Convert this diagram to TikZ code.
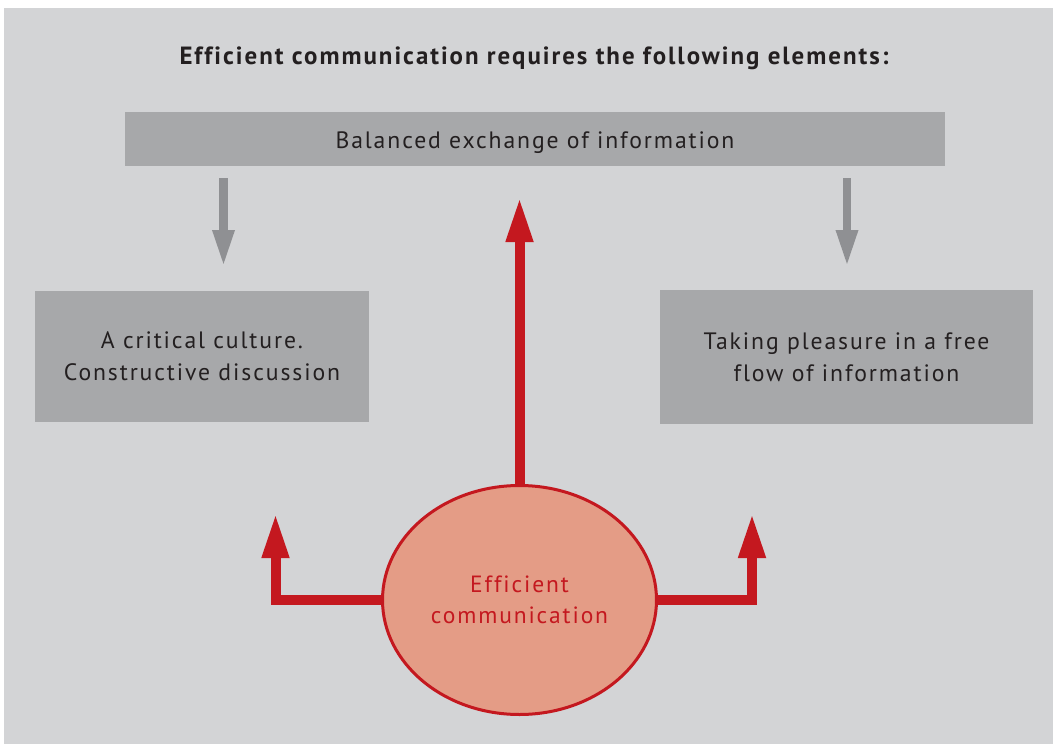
\documentclass[tikz,border=0pt]{standalone}
\usepackage{fontspec}
\setmainfont{PT Sans}[LetterSpace=8, Ligatures=NoCommon]
\usetikzlibrary{arrows.meta,shapes.geometric}
\definecolor{panel}{HTML}{D3D4D6}
\definecolor{boxgray}{HTML}{A7A8AA}
\definecolor{arrowgray}{HTML}{8F9093}
\definecolor{accent}{HTML}{C4181F}
\definecolor{blush}{HTML}{E49C86}
\definecolor{ink}{HTML}{231F20}
\tikzset{
  infobox/.style={fill=boxgray, inner sep=0pt, text=ink, align=center,
    font=\fontsize{23.7}{32}\selectfont},
  hint/.style={draw=arrowgray, line width=8.5pt,
    -{Triangle[length=37pt, width=20pt]}},
  flow/.style={draw=accent, line width=10pt,
    -{Triangle[length=45pt, width=25pt]}},
}
\begin{document}
\begin{tikzpicture}[x=1pt, y=-1pt]
  \useasboundingbox (0,0) rectangle (1053,744);
  \fill[panel] (4,8) rectangle (1053,744);

  % heading
  \node[text=ink, font=\bfseries\fontsize{24.9}{30}\selectfont] (title) at (534,58)
    {Efficient communication requires the following elements:};

  % three grey boxes
  \node[infobox, minimum width=820pt, minimum height=54pt,
    text height=20pt, text depth=2pt] (exchange) at (535,139)
    {Balanced exchange of information};
  \node[infobox, minimum width=334pt, minimum height=131pt] (critical) at (202,356.5)
    {A critical culture.\\Constructive discussion};
  \node[infobox, minimum width=373pt, minimum height=134pt] (pleasure) at (846.5,357)
    {Taking pleasure in a free\\flow of information};

  % central ellipse
  \node[ellipse, draw=accent, line width=3pt, fill=blush, minimum width=274pt,
    minimum height=229pt, text=accent, align=center,
    font=\fontsize{23.5}{31}\selectfont] (core) at (519.5,600)
    {Efficient\\communication};

  % grey hint arrows below the top box
  \coordinate (hl0) at (223.5,178);
  \coordinate (hl1) at (223.5,267);
  \coordinate (hr0) at (847,178);
  \coordinate (hr1) at (847,267);
  \draw[hint] (hl0) -- (hl1);
  \draw[hint] (hr0) -- (hr1);

  % red arrows leaving the ellipse
  \coordinate (up) at (519.5,197);
  \coordinate (lt) at (275.5,513);
  \coordinate (rt) at (752,513);
  \draw[flow] (core.north) -- (up);
  \draw[flow] (core.west) -| (lt);
  \draw[flow] (core.east) -| (rt);
\end{tikzpicture}
\end{document}
